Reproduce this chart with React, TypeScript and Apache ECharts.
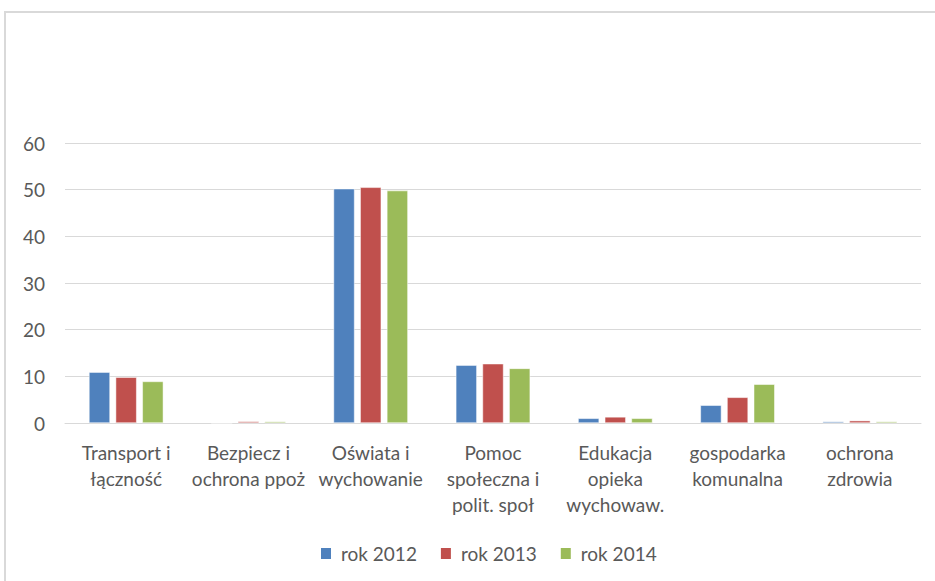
import React, { useEffect, useRef } from "react";
import * as echarts from "echarts";

const categories = [
  "Transport i\nłączność",
  "Bezpiecz i\nochrona ppoż",
  "Oświata i\nwychowanie",
  "Pomoc\nspołeczna i\npolit. społ",
  "Edukacja\nopieka\nwychowaw.",
  "gospodarka\nkomunalna",
  "ochrona\nzdrowia",
];
const rok2012 = [10.9, 0, 50.2, 12.4, 1.0, 3.8, 0.3];
const rok2013 = [9.8, 0.3, 50.5, 12.7, 1.3, 5.5, 0.5];
const rok2014 = [8.9, 0.3, 49.8, 11.7, 1.0, 8.3, 0.3];
const seriesNames = ["rok 2012", "rok 2013", "rok 2014"];
const colors = ["#4F81BD", "#C0504D", "#9BBB59"];

const FONT = "Lato";
const TEXT = "#595959";

export default function App() {
  const ref = useRef<HTMLDivElement>(null);
  useEffect(() => {
    if (!ref.current) return;
    const chart = echarts.init(ref.current, null, { renderer: "svg" });
    const data = [rok2012, rok2013, rok2014];
    chart.setOption({
      animation: false,
      backgroundColor: "#ffffff",
      textStyle: { fontFamily: FONT },
      graphic: [
        {
          type: "rect",
          shape: { x: 5, y: 12, width: 960, height: 620 },
          style: { fill: "none", stroke: "#d9d9d9", lineWidth: 2 },
          silent: true,
        },
      ],
      grid: { left: 65, right: 14, top: 143, bottom: 158, containLabel: false },
      legend: {
        bottom: 13,
        left: 314,
        itemWidth: 12,
        itemHeight: 13,
        itemGap: 22,
        icon: "rect",
        textStyle: { color: TEXT, fontSize: 19, fontFamily: FONT, padding: [0, 0, 0, 4] },
        data: seriesNames,
      },
      xAxis: {
        type: "category",
        data: categories,
        axisLine: { lineStyle: { color: "#d9d9d9", width: 1 } },
        axisTick: { show: false },
        axisLabel: {
          interval: 0,
          color: TEXT,
          fontSize: 19,
          fontFamily: FONT,
          lineHeight: 26,
          margin: 16,
        },
      },
      yAxis: {
        type: "value",
        min: 0,
        max: 60,
        interval: 10,
        axisLine: { show: false },
        axisTick: { show: false },
        splitLine: { lineStyle: { color: "#d9d9d9", width: 1 } },
        axisLabel: { color: TEXT, fontSize: 19, fontFamily: FONT, margin: 20 },
      },
      series: seriesNames.map((name, i) => ({
        name,
        type: "bar",
        data: data[i],
        barWidth: 21,
        barGap: "27%",
        itemStyle: { color: colors[i], borderColor: "#ffffff", borderWidth: 0.5 },
      })),
    });
    return () => chart.dispose();
  }, []);
  return (
    <div
      ref={ref}
      style={{ position: "fixed", left: 0, top: 0, width: 935, height: 581 }}
    />
  );
}
